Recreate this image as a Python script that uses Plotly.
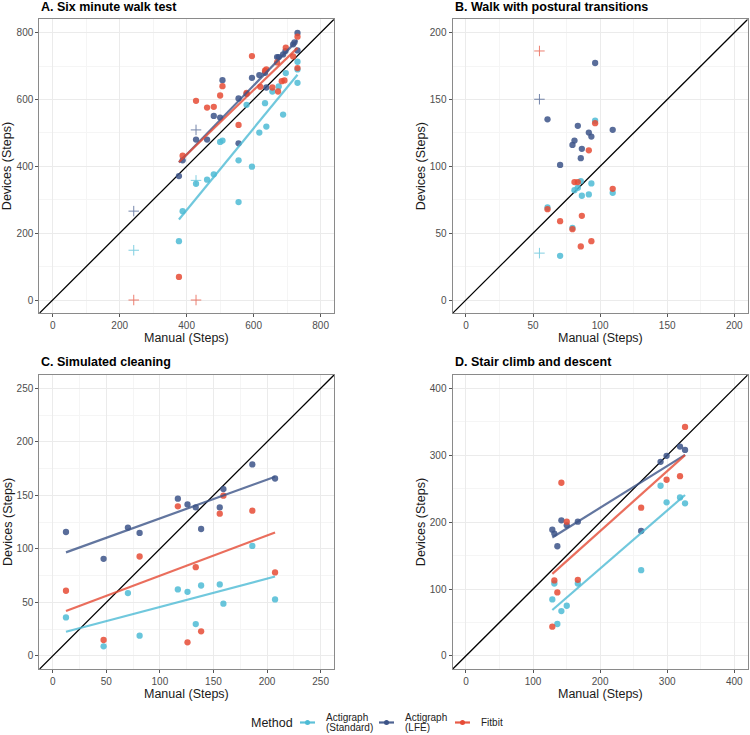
import numpy as np
import plotly.graph_objects as go

# ---------------- data ----------------
panel_titles = ["A. Six minute walk test", "B. Walk with postural transitions",
                "C. Simulated cleaning", "D. Stair climb and descent"]
method_names = ["Actigraph<br>(Standard)", "Actigraph<br>(LFE)", "Fitbit"]
axis_x_title = "Manual (Steps)"
axis_y_title = "Devices (Steps)"
legend_title = "Method"

panel_limits = [[0, 800], [0, 200], [0, 250], [0, 400]]
panel_ticks = [[0, 200, 400, 600, 800], [0, 50, 100, 150, 200],
               [0, 50, 100, 150, 200, 250], [0, 100, 200, 300, 400]]
panel_fit = [True, False, True, True]

# Panel A: six minute walk test
a_std_x = [377, 388, 428, 461, 481, 500, 507, 555, 555, 579, 595, 617, 634, 638, 656, 675, 688, 696, 731, 731, 731]
a_std_y = [176, 266, 348, 360, 376, 473, 477, 418, 293, 584, 399, 501, 589, 519, 624, 639, 555, 679, 713, 690, 650]
a_lfe_x = [377, 388, 428, 461, 481, 500, 507, 555, 555, 579, 595, 617, 634, 638, 670, 675, 688, 695, 718, 722, 731, 731]
a_lfe_y = [371, 418, 480, 480, 551, 546, 658, 603, 469, 617, 665, 673, 680, 636, 727, 727, 735, 745, 765, 771, 799, 747]
a_fit_x = [377, 388, 428, 461, 481, 500, 507, 555, 579, 595, 620, 634, 638, 656, 670, 673, 684, 692, 696, 718, 731, 731]
a_fit_y = [69, 432, 596, 576, 578, 612, 640, 524, 620, 730, 638, 686, 690, 636, 711, 624, 655, 657, 755, 729, 788, 694]
a_std_out_x = [242, 428]
a_std_out_y = [149, 358]
a_lfe_out_x = [242, 428]
a_lfe_out_y = [266, 509]
a_fit_out_x = [242, 428]
a_fit_out_y = [0, 0]

# Panel B: walk with postural transitions
b_x = [60.8, 70.2, 79.4, 80.9, 83.4, 85.6, 86.4, 91.6, 93.5, 96.3, 109.4]
b_std_y = [69.2, 33.1, 54, 82.2, 84, 89, 78, 79, 87.2, 134.2, 80.2]
b_lfe_y = [135.2, 101.1, 116, 119.3, 130.3, 106.1, 113.1, 125.3, 122.3, 177.3, 127.3]
b_fit_y = [68, 59, 53, 88.2, 88.2, 40.1, 63, 112, 44, 132.3, 83.2]
b_out_x = [54.8]
b_std_out_y = [35.1]
b_lfe_out_y = [150.2]
b_fit_out_y = [186.3]

# Panel C: simulated cleaning
c_x = [12.4, 47.5, 70.2, 81.1, 116.8, 125.8, 133.5, 138.5, 155.9, 159.3, 186.3, 207.5]
c_std_y = [36, 9, 58.7, 18.9, 62.1, 59.9, 29.8, 65.8, 66.8, 48.8, 102.8, 52.8]
c_lfe_y = [115.8, 90.7, 119.9, 114.9, 146.9, 141.6, 138.8, 118.6, 138.8, 155.9, 178.9, 165.8]
c_fit_x = [12.4, 47.5, 81.1, 116.8, 125.8, 133.5, 138.5, 155.9, 159.3, 186.3, 207.5]
c_fit_y = [60.9, 14.9, 92.9, 139.8, 12.7, 82.9, 23, 132.9, 149.7, 135.7, 78]

# Panel D: stair climb and descent
d_x = [128.8, 131.8, 136.3, 142.3, 150.3, 166.8, 261.2, 290.1, 299.1, 319.1, 326.6]
d_std_y = [84.5, 108.3, 47.7, 67.1, 75, 108.3, 128.2, 254.4, 229.6, 237, 228.1]
d_lfe_y = [188.8, 182.9, 164, 202.7, 195.3, 200.7, 186.8, 290.2, 299.1, 313, 308]
d_fit_x = [128.8, 131.8, 136.3, 142.3, 150.3, 166.8, 261.2, 299.1, 319.1, 326.6]
d_fit_y = [43.7, 112.8, 94.9, 258.9, 200.7, 113.8, 221.6, 263.4, 268.8, 342.4]

panels = [
    {"pts": [(a_std_x, a_std_y), (a_lfe_x, a_lfe_y), (a_fit_x, a_fit_y)],
     "out": [(a_std_out_x, a_std_out_y), (a_lfe_out_x, a_lfe_out_y), (a_fit_out_x, a_fit_out_y)]},
    {"pts": [(b_x, b_std_y), (b_x, b_lfe_y), (b_x, b_fit_y)],
     "out": [(b_out_x, b_std_out_y), (b_out_x, b_lfe_out_y), (b_out_x, b_fit_out_y)]},
    {"pts": [(c_x, c_std_y), (c_x, c_lfe_y), (c_fit_x, c_fit_y)], "out": []},
    {"pts": [(d_x, d_std_y), (d_x, d_lfe_y), (d_fit_x, d_fit_y)], "out": []},
]

# ---------------- style ----------------
colors = ["#4DBBD5", "#3C5488", "#E64B35"]
W, H = 750, 735
# pixel boxes (left, right, top, bottom)
boxes = [(39.3, 334.0, 19.3, 313.4), (452.5, 747.7, 19.3, 313.4),
         (39.3, 334.0, 375.0, 669.3), (452.5, 747.7, 375.0, 669.3)]
FONT = "Liberation Sans, Arial, sans-serif"

fig = go.Figure()
layout = dict(width=W, height=H, margin=dict(l=0, r=0, t=0, b=0),
              paper_bgcolor="white", plot_bgcolor="white",
              font=dict(family=FONT, color="#1a1a1a"), showlegend=False)
annotations = []
shapes = []


def px_x(v):
    return v / W


def px_y(v):
    return 1 - v / H


for i, (panel, box) in enumerate(zip(panels, boxes)):
    n = i + 1
    xa = "x" if n == 1 else f"x{n}"
    ya = "y" if n == 1 else f"y{n}"
    lo, hi = panel_limits[i]
    pad = (hi - lo) * 0.05
    rng = [lo - pad, hi + pad]
    l, r, t, b = box
    ticks = panel_ticks[i]
    minor_dt = (ticks[1] - ticks[0]) / 2
    common = dict(range=rng, tickvals=ticks, showgrid=True, gridcolor="#EBEBEB", gridwidth=1,
                  minor=dict(dtick=minor_dt, tick0=0, showgrid=True, gridcolor="#F5F5F5", gridwidth=0.6),
                  zeroline=False, showline=True, mirror=True, linecolor="#8a8a8a", linewidth=1,
                  ticks="outside", ticklen=3, tickcolor="#555555", tickwidth=1,
                  tickfont=dict(size=10, color="#4D4D4D", family=FONT), automargin=False, fixedrange=True)
    layout[("xaxis" if n == 1 else f"xaxis{n}")] = dict(domain=[px_x(l), px_x(r)], anchor=ya, **common)
    layout[("yaxis" if n == 1 else f"yaxis{n}")] = dict(domain=[px_y(b), px_y(t)], anchor=xa, **common)

    # identity line
    fig.add_trace(go.Scatter(x=rng, y=rng, mode="lines", line=dict(color="black", width=1.3),
                             xaxis=xa, yaxis=ya, hoverinfo="skip"))

    for k, (px, py) in enumerate(panel["pts"]):
        fig.add_trace(go.Scatter(x=px, y=py, mode="markers", name=method_names[k],
                                 marker=dict(color=colors[k], size=6.3, opacity=0.85, line=dict(width=0)),
                                 xaxis=xa, yaxis=ya))
    for k, (ox, oy) in enumerate(panel["out"]):
        fig.add_trace(go.Scatter(x=ox, y=oy, mode="markers", name=method_names[k],
                                 marker=dict(color=colors[k], size=7.5, opacity=0.7, symbol="cross-thin",
                                             line=dict(width=1, color=colors[k])),
                                 xaxis=xa, yaxis=ya))
    if panel_fit[i]:
        for k, (px, py) in enumerate(panel["pts"]):
            xs = np.array(px, dtype=float)
            ys = np.array(py, dtype=float)
            slope, icpt = np.polyfit(xs, ys, 1)
            lx = np.array([xs.min(), xs.max()])
            fig.add_trace(go.Scatter(x=lx, y=icpt + slope * lx, mode="lines",
                                     line=dict(color=colors[k], width=2.2), opacity=0.8,
                                     xaxis=xa, yaxis=ya, hoverinfo="skip"))

    # panel title
    annotations.append(dict(text=f"<b>{panel_titles[i]}</b>", x=px_x(l), y=px_y(t - 12.8),
                            xref="paper", yref="paper", xanchor="left", yanchor="middle",
                            showarrow=False, font=dict(size=12.5, color="black", family=FONT)))
    # axis titles
    annotations.append(dict(text=axis_x_title, x=px_x((l + r) / 2), y=px_y(b + 24.5),
                            xref="paper", yref="paper", xanchor="center", yanchor="middle",
                            showarrow=False, font=dict(size=12.5, color="#1a1a1a", family=FONT)))
    annotations.append(dict(text=axis_y_title, x=px_x(l - 31.5), y=px_y((t + b) / 2),
                            xref="paper", yref="paper", xanchor="center", yanchor="middle",
                            textangle=-90, showarrow=False,
                            font=dict(size=12.5, color="#1a1a1a", family=FONT)))

# ---- legend (drawn as a key below the panels) ----
leg_y = 722.5
annotations.append(dict(text=legend_title, x=px_x(249), y=px_y(leg_y), xref="paper", yref="paper",
                        xanchor="left", yanchor="middle", showarrow=False,
                        font=dict(size=12.5, color="#1a1a1a", family=FONT)))
key_left = [300, 379, 455]
for k, name in enumerate(method_names):
    x0 = key_left[k]
    shapes.append(dict(type="line", xref="paper", yref="paper", x0=px_x(x0), x1=px_x(x0 + 15),
                       y0=px_y(leg_y), y1=px_y(leg_y), line=dict(color=colors[k], width=2.2), opacity=0.9))
    shapes.append(dict(type="circle", xref="paper", yref="paper", x0=px_x(x0 + 5), x1=px_x(x0 + 10),
                       y0=px_y(leg_y + 2.5), y1=px_y(leg_y - 2.5), fillcolor=colors[k],
                       line=dict(width=0)))
    lines = name.split("<br>")
    n_l = len(lines)
    for j, txt in enumerate(lines):
        yy = leg_y + (j - (n_l - 1) / 2) * 10.8
        annotations.append(dict(text=txt, x=px_x(x0 + 24), y=px_y(yy), xref="paper", yref="paper",
                                xanchor="left", yanchor="middle", showarrow=False,
                                font=dict(size=10, color="#222222", family=FONT)))

layout["annotations"] = annotations
layout["shapes"] = shapes
fig.update_layout(**layout)
fig.write_html("out.html", config={"displayModeBar": False},
               post_script="document.body.style.margin='0px';document.body.style.padding='0px';")
